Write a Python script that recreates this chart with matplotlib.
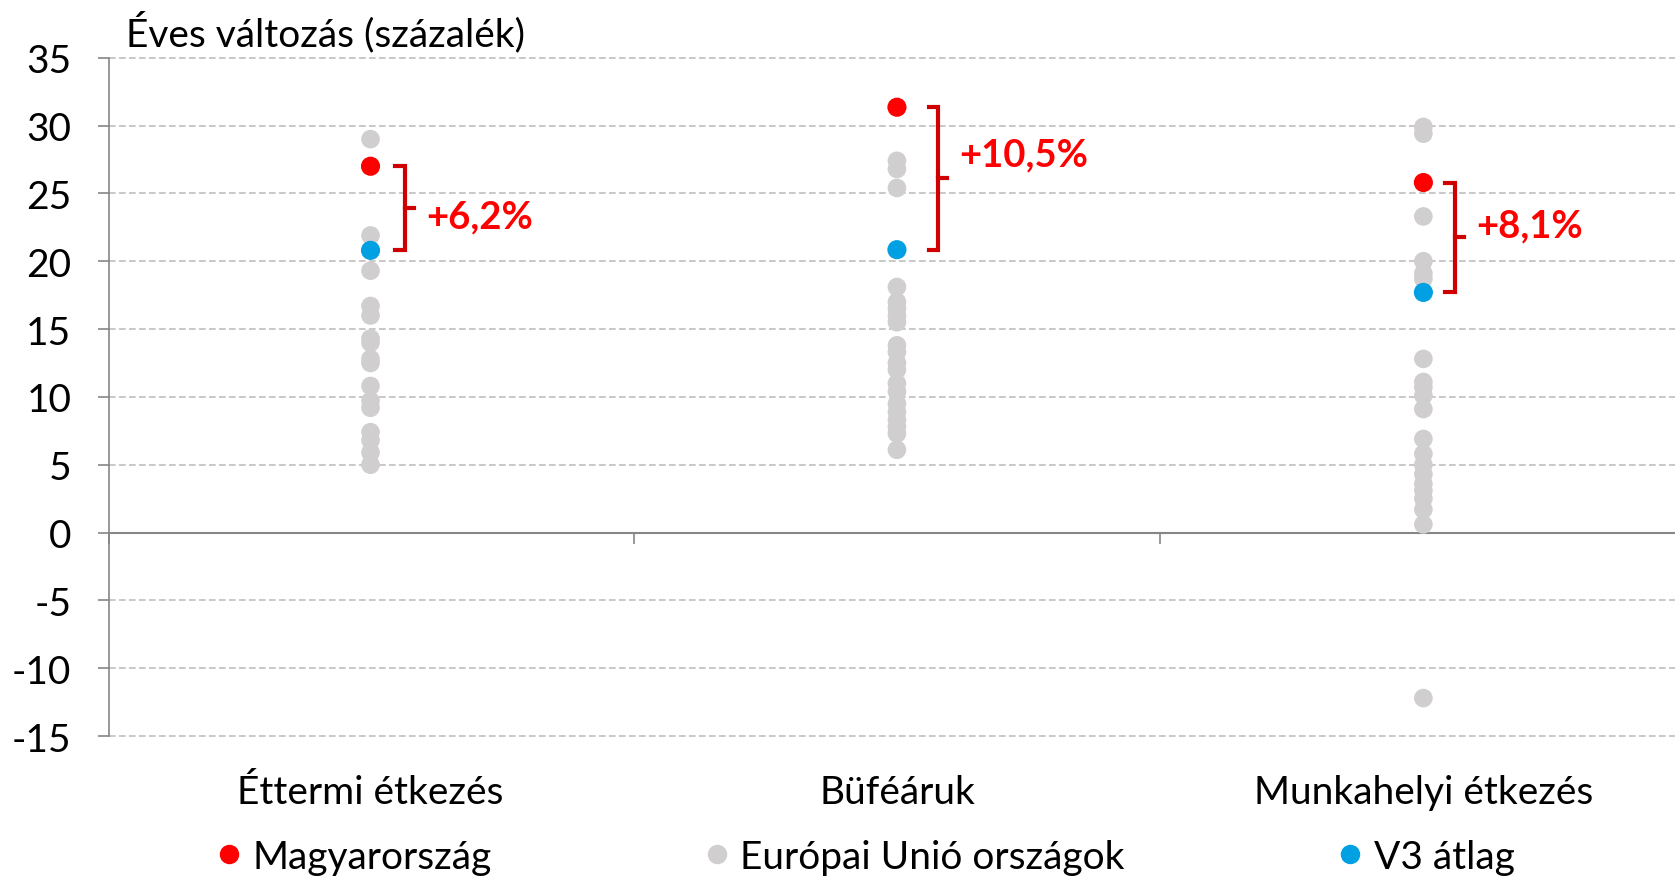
import numpy as np
import matplotlib.pyplot as plt
from matplotlib.lines import Line2D

plt.rcParams['font.family'] = ['Lato', 'DejaVu Sans']
plt.rcParams['axes.unicode_minus'] = False

# categories
kategoriak = ['Éttermi étkezés', 'Büféáruk', 'Munkahelyi étkezés']

# EU countries (grey dots)
eu_etterem = [29.0, 21.9, 19.3, 16.7, 16.0, 14.3, 14.0, 12.8, 12.5, 10.8, 9.7, 9.2,
              7.4, 6.8, 5.9, 5.0]
eu_bufe = [27.4, 26.8, 25.4, 18.1, 17.0, 16.5, 16.0, 15.5, 13.8, 13.3, 12.5, 12.0,
           11.0, 10.4, 9.5, 8.9, 8.3, 7.8, 7.3, 6.1]
eu_munkahely = [29.9, 29.4, 23.3, 20.0, 19.1, 18.7, 12.8, 11.1, 10.7, 10.1, 9.1,
                6.9, 5.8, 5.0, 4.3, 3.6, 3.1, 2.5, 1.7, 0.6, -12.2]
eu_ertekek = [eu_etterem, eu_bufe, eu_munkahely]

magyar = [27.0, 31.35, 25.8]
v3 = [20.8, 20.85, 17.7]
kulonbseg = ['+6,2%', '+10,5%', '+8,1%']

piros = '#FF0000'
kek = '#00A0E3'
szurke = '#D0CECE'
sotetpiros = '#D00000'

fig = plt.figure(figsize=(16.75, 8.79), dpi=100)
ax = fig.add_axes([0.065, 0.1615, 0.935, 0.7717])

for i, vals in enumerate(eu_ertekek):
    ax.scatter([i] * len(vals), vals, s=180, color=szurke, edgecolors='none', zorder=3)
ax.scatter(range(3), v3, s=190, color=kek, edgecolors='none', zorder=4)
ax.scatter(range(3), magyar, s=190, color=piros, edgecolors='none', zorder=4)

# brackets
b_off = [0.065, 0.078, 0.06]
serif = 0.018
szoveg_y = [23.3, 27.9, 22.6]
for i in range(3):
    x = i + b_off[i]
    top, bot = magyar[i], v3[i]
    ax.plot([x - serif, x, x, x - serif], [top, top, bot, bot],
            color=sotetpiros, lw=3, solid_joinstyle='miter', zorder=5)
    mid = (top + bot) / 2
    ax.plot([x, x + serif], [mid, mid], color=sotetpiros, lw=3, zorder=5)
    ax.text(x + 0.04, szoveg_y[i], kulonbseg[i], color=piros, fontsize=27.5,
            fontweight='bold', va='center', ha='left')

ax.set_xlim(-0.497, 2.478)
ax.set_ylim(-15, 35)
ax.set_yticks(np.arange(-15, 36, 5))
ax.tick_params(axis='y', labelsize=28, length=8, color='#868686', width=1.2, pad=19)
ax.yaxis.grid(True, linestyle=(0, (4, 2)), color='#BFBFBF', lw=1.2, clip_on=False)
ax.set_axisbelow(True)

ax.spines['top'].set_visible(False)
ax.spines['right'].set_visible(False)
ax.spines['left'].set_color('#868686')
ax.spines['left'].set_linewidth(1.2)
ax.spines['bottom'].set_position(('data', 0))
ax.spines['bottom'].set_color('#868686')
ax.spines['bottom'].set_linewidth(1.5)
ax.set_xticks([-0.497, 0.5, 1.5])
ax.set_xticklabels([])
ax.tick_params(axis='x', length=8, color='#868686', width=1.2)

for i, k in enumerate(kategoriak):
    ax.text(i, -0.082, k, transform=ax.get_xaxis_transform(), ha='center', va='center',
            fontsize=28)

fig.text(126 / 1675, 1 - 32 / 879, 'Éves változás (százalék)', fontsize=28,
         ha='left', va='center')

handles = [Line2D([], [], marker='o', ls='none', color=piros, markersize=13),
           Line2D([], [], marker='o', ls='none', color=szurke, markersize=13),
           Line2D([], [], marker='o', ls='none', color=kek, markersize=13)]
fig.legend(handles, ['Magyarország', 'Európai Unió országok', 'V3 átlag'],
           loc='center', bbox_to_anchor=(0.517, 1 - 858 / 879), ncol=3, frameon=False,
           fontsize=28, handletextpad=0.3, columnspacing=5.5, handlelength=0.6)

fig.savefig('out.png', dpi=100)
